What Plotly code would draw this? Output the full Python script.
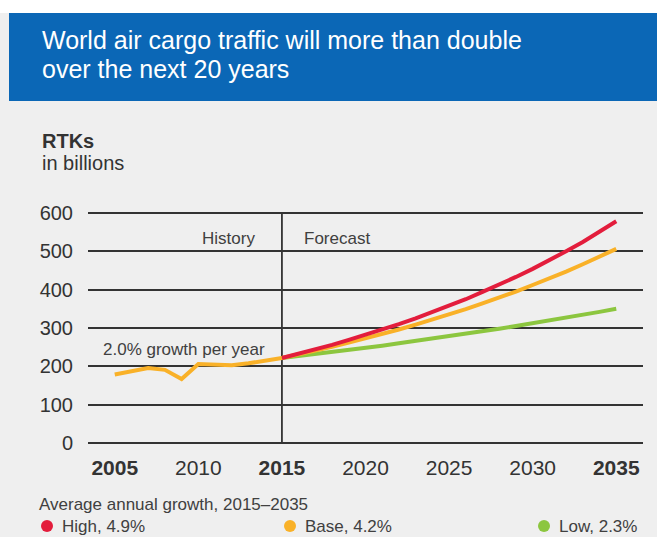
import plotly.graph_objects as go

# RTKs in billions
hist_years = list(range(2005, 2016))
hist_rtk = [179, 188, 196, 191, 167, 206, 205, 203, 208, 214, 222]

fc_years = list(range(2015, 2036))
high_rtk = [222, 233, 244, 256, 269, 282, 296, 310, 325, 341, 358,
            375, 394, 413, 433, 454, 476, 500, 524, 550, 578]
base_rtk = [222, 231, 241, 251, 262, 273, 284, 296, 309, 322, 335,
            349, 364, 379, 395, 412, 429, 447, 466, 485, 506]
low_rtk = [222, 227, 232, 238, 243, 249, 254, 260, 266, 272, 279,
           285, 292, 298, 305, 312, 319, 327, 334, 342, 350]

x_ticks = [2005, 2010, 2015, 2020, 2025, 2030, 2035]
x_ticktext = ["<b>2005</b>", "2010", "<b>2015</b>", "2020", "2025", "2030", "<b>2035</b>"]
y_ticks = [0, 100, 200, 300, 400, 500, 600]

scenario_labels = ["High, 4.9%", "Base, 4.2%", "Low, 2.3%"]

RED = "#e31d3c"
ORANGE = "#f9b128"
GREEN = "#8cc63f"
INK = "#333333"
SOFT = "#404040"
FONT = "Liberation Sans, Arial, sans-serif"

W, H = 657, 537
L, R, T, B = 88, 14, 209, 90
PW, PH = W - L - R, H - T - B


def px(x):
    return (x - L) / PW


def py(y):
    return (H - B - y) / PH


fig = go.Figure()
fig.add_trace(go.Scatter(x=fc_years, y=low_rtk, mode="lines",
                         line=dict(color=GREEN, width=4), name="Low"))
fig.add_trace(go.Scatter(x=fc_years, y=base_rtk, mode="lines",
                         line=dict(color=ORANGE, width=4), name="Base"))
fig.add_trace(go.Scatter(x=fc_years, y=high_rtk, mode="lines",
                         line=dict(color=RED, width=4), name="High"))
fig.add_trace(go.Scatter(x=hist_years, y=hist_rtk, mode="lines",
                         line=dict(color=ORANGE, width=4), name="History"))

shapes = [
    # header band
    dict(type="rect", xref="paper", yref="paper", x0=px(9), x1=px(W + 5),
         y0=py(101), y1=py(13), fillcolor="#0b67b6", line=dict(width=0), layer="below"),
    dict(type="rect", xref="paper", yref="paper", x0=px(-5), x1=px(W + 5),
         y0=py(13), y1=py(-5), fillcolor="#ffffff", line=dict(width=0), layer="below"),
    # history / forecast divider
    dict(type="line", xref="x", yref="y", x0=2015, x1=2015, y0=0, y1=600,
         line=dict(color=INK, width=1.8), layer="below"),
]

annotations = [
    dict(text="World air cargo traffic will more than double",
         xref="paper", yref="paper", x=px(40), y=py(39.5), xanchor="left", yanchor="middle",
         showarrow=False, font=dict(family=FONT, size=25, color="#ffffff")),
    dict(text="over the next 20 years",
         xref="paper", yref="paper", x=px(40), y=py(68.5), xanchor="left", yanchor="middle",
         showarrow=False, font=dict(family=FONT, size=25, color="#ffffff")),
    dict(text="<b>RTKs</b>", xref="paper", yref="paper", x=px(40), y=py(141),
         xanchor="left", yanchor="middle", showarrow=False,
         font=dict(family=FONT, size=20, color=INK)),
    dict(text="in billions", xref="paper", yref="paper", x=px(40), y=py(163),
         xanchor="left", yanchor="middle", showarrow=False,
         font=dict(family=FONT, size=20, color=INK)),
    dict(text="History", x=2013.5, y=534, xanchor="right", yanchor="middle",
         showarrow=False, font=dict(family=FONT, size=17, color=SOFT)),
    dict(text="Forecast", x=2016.2, y=534, xanchor="left", yanchor="middle",
         showarrow=False, font=dict(family=FONT, size=17, color=SOFT)),
    dict(text="2.0% growth per year", x=2004.2, y=245, xanchor="left", yanchor="middle",
         showarrow=False, font=dict(family=FONT, size=17, color=SOFT)),
    dict(text="Average annual growth, 2015\u20132035", xref="paper", yref="paper",
         x=px(37), y=py(504), xanchor="left", yanchor="middle", showarrow=False,
         font=dict(family=FONT, size=17, color=SOFT)),
]

# scenario key: dot + label
key_y = 526
for label, color, dot_x in zip(scenario_labels, [RED, ORANGE, GREEN], [47, 290, 544]):
    shapes.append(dict(type="circle", xref="paper", yref="paper",
                       x0=px(dot_x - 6), x1=px(dot_x + 6),
                       y0=py(key_y + 6), y1=py(key_y - 6),
                       fillcolor=color, line=dict(width=0)))
    annotations.append(dict(
        text=label, xref="paper", yref="paper", x=px(dot_x + 13), y=py(key_y),
        xanchor="left", yanchor="middle", showarrow=False,
        font=dict(family=FONT, size=17, color=SOFT)))

fig.update_layout(
    width=W, height=H,
    margin=dict(l=L, r=R, t=T, b=B),
    paper_bgcolor="#efefef", plot_bgcolor="rgba(0,0,0,0)",
    showlegend=False,
    shapes=shapes, annotations=annotations,
    xaxis=dict(range=[2003.4, 2036.6], tickvals=x_ticks, ticktext=x_ticktext,
               showgrid=False, zeroline=False, showline=False, ticks="",
               tickfont=dict(family=FONT, size=21, color=INK), ticklabelstandoff=6,
               fixedrange=True),
    yaxis=dict(range=[-10, 610], tickvals=y_ticks, showgrid=True, gridcolor=INK,
               gridwidth=2, zeroline=False, showline=False, ticks="",
               tickfont=dict(family=FONT, size=20, color=INK), ticklabelstandoff=14,
               fixedrange=True),
)

fig.write_html("out.html", config={"displayModeBar": False})
